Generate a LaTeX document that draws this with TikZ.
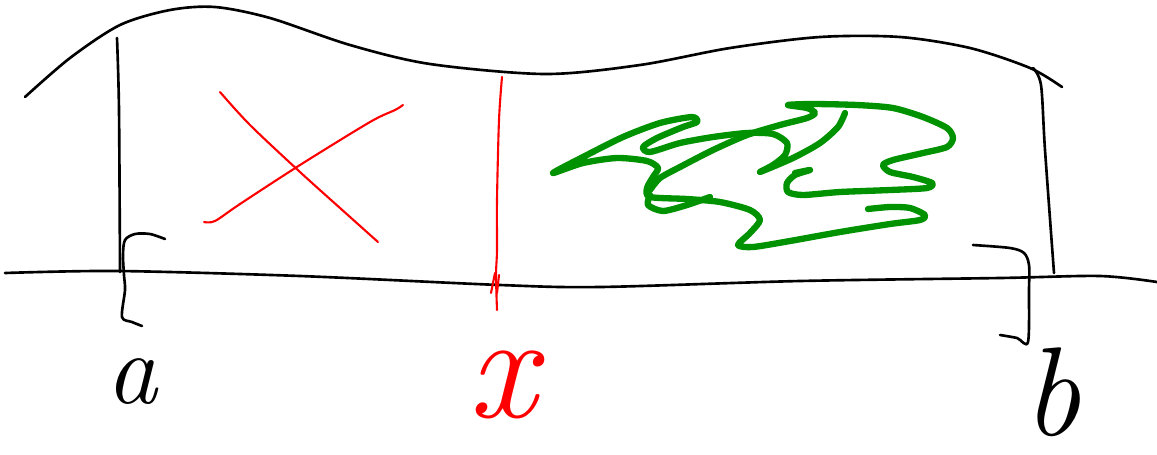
\documentclass[tikz,border=0pt]{standalone}
\usepackage{fontspec}
\begin{document}
\begin{tikzpicture}[x=0.02cm,y=-0.02cm,
  pen/.style={line width=1.5pt,line cap=round,line join=round},
  redpen/.style={line width=1.2pt,line cap=round,line join=round,draw=red},
  greenpen/.style={line width=3.6pt,line cap=round,line join=round,draw=scribble},
  letter/.style={inner sep=0pt,font=\itshape}]
\definecolor{scribble}{RGB}{0,146,0}
\useasboundingbox[fill=white] (0,0) rectangle (1157,454);
% top curve
\draw[pen] plot[smooth] coordinates {(25,97) (70,58) (120,25) (170,10) (215,7) (270,18) (350,45) (430,64) (545,74) (640,65) (730,48) (820,37) (900,37) (970,48) (1030,68) (1062,87)};
% baseline
\draw[pen] plot[smooth] coordinates {(5,273) (118,271) (300,276) (500,285) (600,287) (800,281) (1000,278) (1100,276) (1157,282)};
% verticals
\draw[pen] plot[smooth] coordinates {(117,38) (119,110) (120,272)};
\draw[pen] plot[smooth] coordinates {(1033,68) (1041,85) (1045,150) (1054,273)};
% brackets
\draw[pen] plot[smooth] coordinates {(165,239) (150,234) (135,234) (125,240) (123,255) (124,275) (125,290) (122,317) (132,322) (142,326)};
\draw[pen] plot[smooth] coordinates {(973,245) (1010,248) (1024,253) (1029,265) (1029,290) (1028,342) (1017,338) (1000,335)};
% red X left
\draw[redpen] plot[smooth] coordinates {(220,92) (250,125) (300,172) (340,208) (378,242)};
\draw[redpen] plot[smooth] coordinates {(204,222) (215,221) (240,204) (300,165) (370,122) (395,110) (403,105)};
% red vertical with tick
\draw[redpen] plot[smooth] coordinates {(502,77) (499,120) (497,200) (497,250) (496,275) (497,310)};
\draw[redpen] (491,293) -- (495,273);
\draw[redpen] (497,293) -- (499,275);
% labels
\node[letter,font=\fontsize{58}{58}\selectfont\itshape] (la) at (132,382) {a};
\node[letter,font=\fontsize{86}{86}\selectfont\itshape,text=red] (lx) at (502,385) {x};
\node[letter,font=\fontsize{72}{72}\selectfont\itshape] (lb) at (1052,392) {b};
% green scribble
\draw[greenpen] plot[smooth,tension=0.45] coordinates {(845,113) (838,127) (820,143) (793,158) (760,172) (773,165) (785,155) (787,143) (773,134) (747,133) (713,137) (680,143) (650,152) (643,147) (657,138) (683,127) (697,122) (692,117) (660,123) (623,137) (583,157) (553,173) (583,163) (617,158) (647,161) (658,168) (653,177) (647,188) (650,197) (687,199) (720,202) (750,210) (760,220) (750,233) (738,245) (753,247) (790,241) (840,232) (890,224) (920,220) (925,215) (910,208) (890,207) (868,209)};
\draw[greenpen] plot[smooth,tension=0.45] coordinates {(650,190) (660,178) (680,167) (713,150) (747,135) (780,125) (807,118) (815,113) (807,108) (788,105) (813,104) (857,105) (893,108) (923,117) (947,128) (953,138) (947,147) (923,153) (893,160) (883,165) (890,172) (913,177) (932,183) (927,188) (890,190) (840,192) (803,195) (788,192) (787,183) (795,175) (810,170) (795,173)};
\draw[greenpen] plot[smooth,tension=0.45] coordinates {(650,195) (648,205) (663,211) (687,205) (710,197)};
\end{tikzpicture}
\end{document}
